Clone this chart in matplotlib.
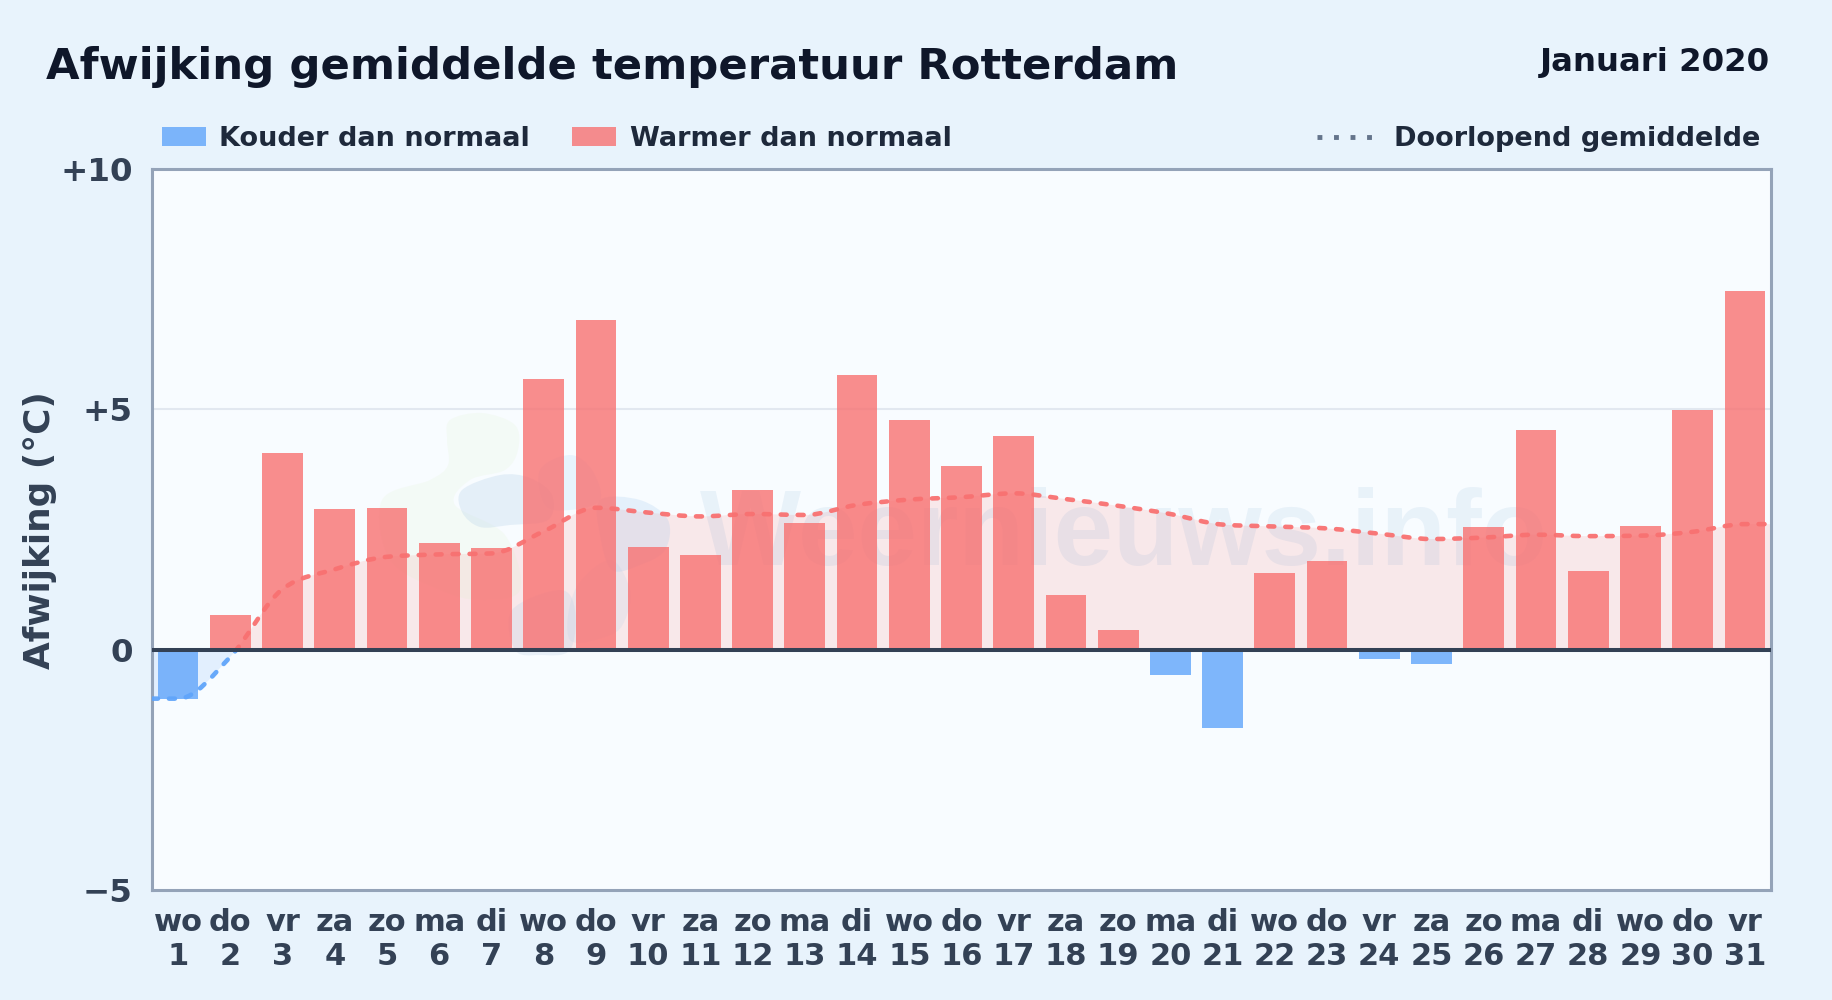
import numpy as np
import matplotlib
matplotlib.use("Agg")
import matplotlib.pyplot as plt
from matplotlib.path import Path
from matplotlib.patches import PathPatch, Rectangle
from matplotlib.lines import Line2D
from matplotlib.transforms import Affine2D

days = list(range(1, 32))
weekdays = ["wo","do","vr","za","zo","ma","di","wo","do","vr","za","zo","ma","di","wo","do",
            "vr","za","zo","ma","di","wo","do","vr","za","zo","ma","di","wo","do","vr"]
deviation = [-1.02,0.73,4.08,2.92,2.94,2.21,2.12,5.62,6.86,2.14,1.97,3.31,2.63,5.71,4.77,3.82,
             4.45,1.14,0.41,-0.53,-1.63,1.60,1.85,-0.19,-0.29,2.55,4.57,1.63,2.58,4.98,7.46]
running_mean = [-1.02,-0.15,1.26,1.67,1.93,1.98,2.00,2.46,2.95,2.85,2.77,2.82,2.80,3.01,3.12,3.17,
                3.25,3.13,2.99,2.82,2.60,2.56,2.52,2.41,2.30,2.33,2.39,2.36,2.37,2.45,2.61]
y_ticks = [-5, 0, 5, 10]
y_tick_labels = ["\u22125", "0", "+5", "+10"]

W, H = 1832, 1000
BG, PLOT = "#e8f3fc", "#f8fcff"
RED, BLUE = "#f87171", "#60a5fa"
plt.rcParams["font.family"] = "DejaVu Sans"
plt.rcParams["font.weight"] = "bold"

fig = plt.figure(figsize=(W/100, H/100), dpi=100, facecolor=BG)
ax = fig.add_axes([152/W, 1-890/H, (1771-152)/W, (890-168.8)/H], facecolor=PLOT)
px = Affine2D().scale(1, -1).translate(0, H)   # pixel coords, origin top-left

def monotone_path(xs, ys):
    """Monotone cubic (curveMonotoneX) through the points as Bezier segments."""
    xs, ys = np.asarray(xs, float), np.asarray(ys, float)
    h = np.diff(xs); s = np.diff(ys)/h
    t = np.zeros_like(xs)
    for i in range(1, len(xs)-1):
        if s[i-1]*s[i] > 0:
            p = (s[i-1]*h[i]+s[i]*h[i-1])/(h[i-1]+h[i])
            t[i] = (np.sign(s[i-1])+np.sign(s[i]))*min(abs(s[i-1]), abs(s[i]), 0.5*abs(p))
    t[0] = (3*s[0]-t[1])/2
    t[-1] = (3*s[-1]-t[-2])/2
    v, c = [(xs[0], ys[0])], [Path.MOVETO]
    for i in range(len(h)):
        d = h[i]/3
        v += [(xs[i]+d, ys[i]+d*t[i]), (xs[i+1]-d, ys[i+1]-d*t[i+1]), (xs[i+1], ys[i+1])]
        c += [Path.CURVE4]*3
    return v, c

x_line = [0.5] + days + [31.5]
y_line = [running_mean[0]] + running_mean + [running_mean[-1]]
verts, codes = monotone_path(x_line, y_line)
area = Path(verts + [(31.5, 0), (0.5, 0), (0.5, 0)], codes + [Path.LINETO, Path.LINETO, Path.CLOSEPOLY])
curve = Path(verts, codes)

ax.set_xlim(0.5, 31.5)
ax.set_ylim(-5, 10)

pos_clip = Rectangle((0.5, 0), 31, 10, transform=ax.transData)
neg_clip = Rectangle((0.5, -5), 31, 5, transform=ax.transData)
for col, clip in ((RED, pos_clip), (BLUE, neg_clip)):
    ax.add_patch(PathPatch(area, fc=col, ec="none", alpha=0.14, zorder=1)).set_clip_path(clip)

ax.bar(days, deviation, width=0.78, color=[RED if v >= 0 else BLUE for v in deviation],
       alpha=0.8, linewidth=0, zorder=2)
for col, clip in ((RED, pos_clip), (BLUE, neg_clip)):
    p = PathPatch(curve, fc="none", ec=col, lw=3.3, alpha=0.95, zorder=4, capstyle="round")
    p.set_linestyle((0, (1.3, 2.4)))
    ax.add_patch(p)
    p.set_clip_path(clip)

# grid and zero line
ax.set_yticks(y_ticks, y_tick_labels)
ax.axhline(5, color="#e2e8f0", lw=1.5, zorder=1.5)
ax.axhline(0, color="#334155", lw=2.9, zorder=5)

# axes dressing
for s in ax.spines.values():
    s.set_color("#94a3b8"); s.set_linewidth(2.2)
ax.set_xticks(days, [f"{w}\n{d}" for w, d in zip(weekdays, days)])
ax.tick_params(axis="both", length=0)
ax.tick_params(axis="y", labelsize=23.4, labelcolor="#334155", pad=14)
ax.tick_params(axis="x", labelsize=22, labelcolor="#334155", pad=13)
for lab in ax.get_xticklabels():
    lab.set_linespacing(1.22)
fig.text(40/W, 1-530/H, "Afwijking (\u00b0C)", rotation=90, ha="center", va="center",
         fontsize=25.8, color="#334155")

# watermark
def blob(points, color, alpha):
    pts = np.array(points, float)
    n = len(pts)
    v, c = [tuple(pts[0])], [Path.MOVETO]
    for i in range(n):
        p0, p1, p2, p3 = pts[i-1], pts[i], pts[(i+1) % n], pts[(i+2) % n]
        v += [tuple(p1+(p2-p0)/6), tuple(p2-(p3-p1)/6), tuple(p2)]
        c += [Path.CURVE4]*3
    ax.add_patch(PathPatch(Path(v, c), fc=color, ec="none", alpha=alpha, zorder=1.8, transform=px))

blob([(450,420),(482,413),(515,425),(518,450),(505,470),(470,480),(455,505),(505,535),(520,590),(480,600),
      (440,590),(390,560),(382,500),(430,480),(448,465),(447,440)], "#dff0c8", 0.16)
blob([(462,490),(500,475),(530,478),(552,495),(548,520),(510,525),(480,527),(462,512)], "#b9d3ea", 0.30)
blob([(540,470),(570,455),(592,470),(600,500),(570,510),(545,505)], "#9fd0f5", 0.18)
blob([(600,500),(640,500),(668,520),(665,550),(640,565),(612,570),(600,535)], "#9fc8ee", 0.22)
blob([(512,610),(560,590),(575,610),(570,650),(540,655),(515,650)], "#b9cfe6", 0.25)
blob([(575,590),(610,560),(630,590),(625,620),(610,635),(570,640)], "#b9cfe6", 0.20)

ax.text(700, 565, "Weernieuws.info", transform=px, ha="left", va="baseline", fontsize=77,
        fontfamily="Liberation Sans", fontweight="bold", color="#1e6fb8", alpha=0.07,
        zorder=1.8, clip_on=True)

# titles
fig.text(46/W, 1-67/H, "Afwijking gemiddelde temperatuur Rotterdam", ha="left", va="center",
         fontsize=31.2, color="#0f172a")
fig.text(1770/W, 1-62/H, "Januari 2020", ha="right", va="center", fontsize=23.3, color="#0f172a")

# legend
legend_items = [("Kouder dan normaal", BLUE, 162, 219), ("Warmer dan normaal", RED, 572, 630)]
for label, col, xs, xt in legend_items:
    fig.add_artist(Rectangle((xs/W, 1-146/H), 44/W, 19/H, transform=fig.transFigure,
                             fc=col, ec="none", alpha=0.8))
    fig.text(xt/W, 1-139/H, label, ha="left", va="center", fontsize=19.5, color="#1e293b")
fig.add_artist(Line2D([1317/W, 1375/W], [1-137/H]*2, transform=fig.transFigure, color="#64748b",
                      lw=3.5, linestyle=(0, (1, 2.4))))
fig.text(1760/W, 1-139/H, "Doorlopend gemiddelde", ha="right", va="center", fontsize=19.5, color="#1e293b")

fig.savefig("out.png", dpi=100, facecolor=BG)
